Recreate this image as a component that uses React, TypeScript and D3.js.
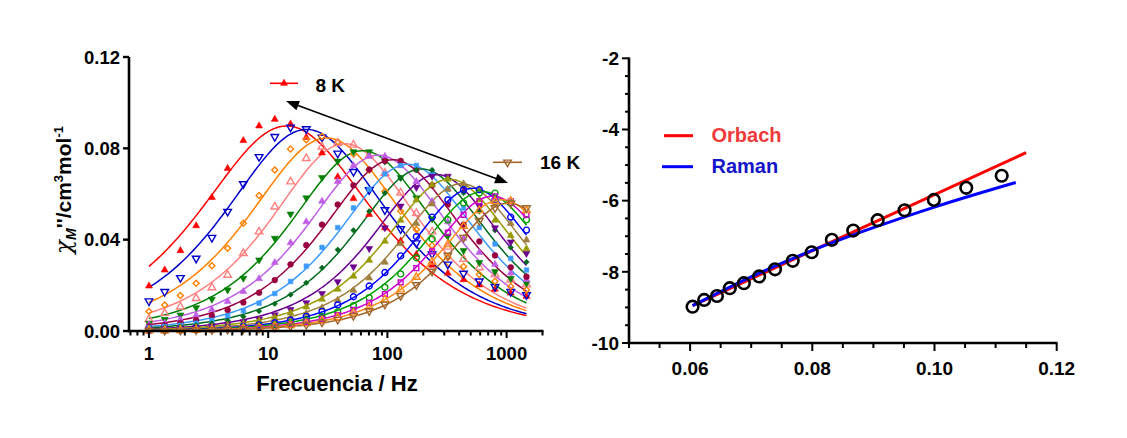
import React from "react";
import * as d3 from "d3";

// ---------- Left panel data: chi'' vs frequency ----------
const freqHz = [1, 1.355, 1.836, 2.488, 3.371, 4.568, 6.19, 8.387, 11.36, 15.4, 20.87, 28.28, 38.31, 51.92, 70.35, 95.3, 129.2, 175, 237.1, 321.3, 435.4, 590, 799, 1083, 1468];

const tempLabels = ["8 K", "8.5 K", "9 K", "9.5 K", "10 K", "10.5 K", "11 K", "11.5 K", "12 K", "12.5 K", "13 K", "13.5 K", "14 K", "14.5 K", "15 K", "15.5 K", "16 K"];

const chi8K = [0.0197, 0.0267, 0.0352, 0.0461, 0.0585, 0.0712, 0.0834, 0.0898, 0.0927, 0.0907, 0.0848, 0.078, 0.0675, 0.058, 0.051, 0.0452, 0.0394, 0.0335, 0.0288, 0.0253, 0.0225, 0.0202, 0.0183, 0.0166, 0.0152];
const chi8_5K = [0.0131, 0.0172, 0.0233, 0.0318, 0.0409, 0.0523, 0.0644, 0.0763, 0.0851, 0.0892, 0.0885, 0.0848, 0.0778, 0.0698, 0.0618, 0.053, 0.0447, 0.0385, 0.0337, 0.0292, 0.0252, 0.0218, 0.0194, 0.0172, 0.0158];
const chi9K = [0.0085, 0.0114, 0.0155, 0.0209, 0.0286, 0.0362, 0.0472, 0.0593, 0.0705, 0.0797, 0.0838, 0.0852, 0.0829, 0.0775, 0.0705, 0.0612, 0.0525, 0.0445, 0.0375, 0.0322, 0.0282, 0.0247, 0.0218, 0.0195, 0.018];
const chi9_5K = [0.0051, 0.0078, 0.0106, 0.0143, 0.019, 0.0245, 0.034, 0.0435, 0.0544, 0.0654, 0.0756, 0.0807, 0.0822, 0.0815, 0.0768, 0.0692, 0.0605, 0.0515, 0.0435, 0.0368, 0.0315, 0.0278, 0.0248, 0.0224, 0.0203];
const chi10K = [0.0034, 0.0051, 0.007, 0.0102, 0.0139, 0.018, 0.0231, 0.0311, 0.0406, 0.0512, 0.0583, 0.0672, 0.0744, 0.0785, 0.0785, 0.0744, 0.0672, 0.0583, 0.0491, 0.0416, 0.0352, 0.03, 0.026, 0.023, 0.0209];
const chi10_5K = [0.0027, 0.0035, 0.005, 0.0069, 0.0094, 0.0129, 0.0173, 0.0229, 0.03, 0.0386, 0.0478, 0.0568, 0.0655, 0.0725, 0.0765, 0.0765, 0.0725, 0.0655, 0.0568, 0.0478, 0.0406, 0.0344, 0.0292, 0.0254, 0.0225];
const chi11K = [0.002, 0.0026, 0.0035, 0.0048, 0.0067, 0.0092, 0.0125, 0.0168, 0.0223, 0.0292, 0.0376, 0.0466, 0.0554, 0.0638, 0.0707, 0.0745, 0.0745, 0.0707, 0.0638, 0.0554, 0.0466, 0.0392, 0.0331, 0.0279, 0.0238];
const chi11_5K = [0.0015, 0.002, 0.0025, 0.0034, 0.0047, 0.0065, 0.0089, 0.0122, 0.0164, 0.0217, 0.0284, 0.0366, 0.0453, 0.0539, 0.0621, 0.0688, 0.0725, 0.0725, 0.0688, 0.0621, 0.0539, 0.0453, 0.0381, 0.0318, 0.0267];
const chi12K = [0.0011, 0.0015, 0.0019, 0.0025, 0.0033, 0.0046, 0.0063, 0.0087, 0.0119, 0.0159, 0.0211, 0.0277, 0.0356, 0.0441, 0.0524, 0.0604, 0.0669, 0.0705, 0.0705, 0.0669, 0.0604, 0.0524, 0.0441, 0.0366, 0.0302];
const chi12_5K = [0.0007, 0.0009, 0.0013, 0.0017, 0.0022, 0.003, 0.004, 0.0053, 0.0071, 0.0094, 0.0124, 0.0164, 0.0216, 0.0281, 0.0361, 0.0452, 0.0547, 0.0629, 0.0678, 0.0678, 0.0629, 0.0547, 0.0452, 0.039, 0.034];
const chi13K = [0.0006, 0.0008, 0.0011, 0.0014, 0.0019, 0.0025, 0.0033, 0.0045, 0.0059, 0.0079, 0.0105, 0.0139, 0.0183, 0.024, 0.031, 0.0393, 0.0485, 0.0574, 0.064, 0.0665, 0.064, 0.0574, 0.0485, 0.0418, 0.036];
const chi13_5K = [0.0004, 0.0006, 0.0008, 0.001, 0.0014, 0.0018, 0.0024, 0.0032, 0.0043, 0.0058, 0.0077, 0.0102, 0.0135, 0.0178, 0.0232, 0.0301, 0.0382, 0.0471, 0.0556, 0.0621, 0.0645, 0.0621, 0.0556, 0.0471, 0.0399];
const chi14K = [0.0004, 0.0005, 0.0006, 0.0009, 0.0012, 0.0015, 0.002, 0.0027, 0.0036, 0.0048, 0.0064, 0.0086, 0.0114, 0.015, 0.0197, 0.0256, 0.0329, 0.0413, 0.0499, 0.0574, 0.0619, 0.0619, 0.0574, 0.0499, 0.0442];
const chi14_5K = [0.0003, 0.0004, 0.0005, 0.0006, 0.0008, 0.0011, 0.0015, 0.002, 0.0027, 0.0035, 0.0047, 0.0063, 0.0084, 0.0111, 0.0146, 0.0192, 0.025, 0.0321, 0.0403, 0.0487, 0.0561, 0.0604, 0.0604, 0.0561, 0.0487];
const chi15K = [0.0002, 0.0003, 0.0004, 0.0005, 0.0007, 0.0009, 0.0013, 0.0017, 0.0022, 0.003, 0.004, 0.0053, 0.007, 0.0093, 0.0123, 0.0162, 0.0213, 0.0275, 0.0349, 0.0431, 0.0509, 0.0568, 0.059, 0.0568, 0.0509];
const chi15_5K = [0.0002, 0.0002, 0.0003, 0.0004, 0.0006, 0.0008, 0.0011, 0.0014, 0.0019, 0.0025, 0.0033, 0.0045, 0.0059, 0.0079, 0.0104, 0.0138, 0.0181, 0.0236, 0.0303, 0.038, 0.0459, 0.0528, 0.0569, 0.0569, 0.0528];
const chi16K = [0.0002, 0.0002, 0.0003, 0.0004, 0.0005, 0.0007, 0.0009, 0.0012, 0.0016, 0.0021, 0.0028, 0.0038, 0.005, 0.0067, 0.0088, 0.0117, 0.0154, 0.0202, 0.0261, 0.0331, 0.0409, 0.0483, 0.0539, 0.056, 0.0539];

const seriesValues = [chi8K, chi8_5K, chi9K, chi9_5K, chi10K, chi10_5K, chi11K, chi11_5K, chi12K, chi12_5K, chi13K, chi13_5K, chi14K, chi14_5K, chi15K, chi15_5K, chi16K];
const seriesColors = ["#ff0000", "#0000cc", "#ff8000", "#ff8080", "#008000", "#bf5fe6", "#990040", "#3d9bff", "#006b1e", "#6b008f", "#999900", "#a08040", "#0000ff", "#00a000", "#cc00cc", "#ff8c1a", "#a0662b"];
const seriesShapes = ["triUp", "triDown", "diamond", "triUp", "triDown", "triUp", "circle", "square", "diamond", "triDown", "triUp", "triUp", "circle", "circle", "square", "triUp", "triDown"];
const seriesFilled = [true, false, false, false, true, true, true, true, true, true, true, true, false, false, false, false, false];

// generalized Debye fit parameters
const fitPeakFreq = [14.3, 21, 31, 44, 62, 84, 111, 148, 193, 260, 330, 420, 520, 630, 760, 900, 1040];
const fitPeakHeight = [0.0898, 0.0883, 0.0845, 0.082, 0.079, 0.077, 0.075, 0.073, 0.071, 0.0685, 0.0665, 0.0645, 0.0625, 0.061, 0.059, 0.0575, 0.056];
const fitAlpha = [0.23, 0.2, 0.18, 0.15, 0.14, 0.13, 0.12, 0.11, 0.1, 0.08, 0.07, 0.06, 0.05, 0.05, 0.04, 0.04, 0.03];

const leftYTicks = [0, 0.04, 0.08, 0.12];
const leftYTickLabels = ["0.00", "0.04", "0.08", "0.12"];
const leftXMajor = [1, 10, 100, 1000];
const leftXTickLabels = ["1", "10", "100", "1000"];

// ---------- Right panel data: ln(tau) vs 1/T ----------
const invT = [0.0604, 0.0623, 0.0644, 0.0665, 0.0688, 0.0713, 0.0739, 0.0768, 0.0799, 0.0832, 0.0867, 0.0907, 0.0951, 0.0999, 0.1052, 0.111];
const lnTau = [-8.98, -8.79, -8.68, -8.46, -8.32, -8.13, -7.93, -7.69, -7.45, -7.1, -6.84, -6.55, -6.27, -5.98, -5.64, -5.3];
const orbachX = [0.0604, 0.115];
const orbachY = [-8.95, -4.65];
const ramanX = [0.0604, 0.07, 0.08, 0.09, 0.1, 0.1133];
const ramanY = [-8.95, -8.14, -7.4, -6.76, -6.18, -5.49];

const rightYTicks = [-2, -4, -6, -8, -10];
const rightXTicks = [0.06, 0.08, 0.1, 0.12];
const rightXTickLabels = ["0.06", "0.08", "0.10", "0.12"];

const FONT = "'Liberation Sans', Arial, sans-serif";

function genDebye(f: number, fp: number, h: number, a: number) {
  const u = f / fp;
  const v = Math.pow(u, 1 - a);
  const c = Math.cos((a * Math.PI) / 2);
  const s = Math.sin((a * Math.PI) / 2);
  const val = (v * c) / (1 + 2 * v * s + v * v);
  const peak = c / (2 + 2 * s);
  return (h * val) / peak;
}

function markerPath(shape: string, filled: boolean) {
  switch (shape) {
    case "triUp":
    case "triDown":
      return d3.symbol(d3.symbolTriangle, filled ? 21 : 25)() as string;
    case "diamond":
      return d3.symbol(d3.symbolSquare, filled ? 15 : 18)() as string;
    case "circle":
      return d3.symbol(d3.symbolCircle, filled ? 26 : 28)() as string;
    default:
      return d3.symbol(d3.symbolSquare, filled ? 21 : 23)() as string;
  }
}
function markerRot(shape: string) {
  if (shape === "triDown") return " rotate(180)";
  if (shape === "diamond") return " rotate(45)";
  return "";
}

function Marker({ x, y, i }: { x: number; y: number; i: number }) {
  const shape = seriesShapes[i];
  const filled = seriesFilled[i];
  const col = seriesColors[i];
  return (
    <path
      d={markerPath(shape, filled)}
      transform={`translate(${x},${y})${markerRot(shape)}`}
      fill={filled ? col : "none"}
      stroke={col}
      strokeWidth={filled ? 0.6 : 1.4}
    />
  );
}

export default function App() {
  // Left scales
  const xL = d3.scaleLog().domain([0.7, 2000]).range([130.5, 542.5]);
  const yL = d3.scaleLinear().domain([0, 0.12]).range([331, 57]);
  const leftAxisX = 129;
  const leftAxisY = 331;

  // Right scales
  const xR = d3.scaleLinear().domain([0.05, 0.12]).range([629, 1056.7]);
  const yR = d3.scaleLinear().domain([-10, -2]).range([343, 58.3]);

  const sampleF = d3.range(0, 161).map((i) => Math.pow(10, (i / 160) * Math.log10(1468)));

  const leftMinor = xL.ticks();
  const lineR = d3
    .line<[number, number]>()
    .x((d) => xR(d[0]))
    .y((d) => yR(d[1]));
  const ramanLine = d3
    .line<[number, number]>()
    .x((d) => xR(d[0]))
    .y((d) => yR(d[1]))
    .curve(d3.curveMonotoneX);

  const rYMinor = d3.range(-10, -1.99, 0.5);
  const rXMinor = d3.range(0, 15).map((k) => 0.05 + k * 0.005);

  // annotation positions in data coordinates
  const arrowA: [number, number] = [xL(14.1), yL(0.1007)];
  const arrowB: [number, number] = [xL(1028), yL(0.0648)];
  const ang = Math.atan2(arrowB[1] - arrowA[1], arrowB[0] - arrowA[0]);
  const headLen = 13;
  const headW = 5;
  const head = (tip: [number, number], dir: number) => {
    const bx = tip[0] - Math.cos(dir) * headLen;
    const by = tip[1] - Math.sin(dir) * headLen;
    const px = -Math.sin(dir) * headW;
    const py = Math.cos(dir) * headW;
    return `M${tip[0]},${tip[1]}L${bx + px},${by + py}L${bx - px},${by - py}Z`;
  };

  return (
    <svg
      width={1127}
      height={438}
      style={{ position: "absolute", left: 0, top: 0, background: "#fff" }}
      fontFamily={FONT}
    >
      <rect x={0} y={0} width={1127} height={438} fill="#fff" />

      {/* ---------------- LEFT PANEL ---------------- */}
      <g>
        {seriesValues.map((_, i) => {
          const pts = sampleF.map((f) => [xL(f), yL(genDebye(f, fitPeakFreq[i], fitPeakHeight[i], fitAlpha[i]))] as [number, number]);
          const d = d3.line()(pts) as string;
          return <path key={"fit" + i} d={d} fill="none" stroke={seriesColors[i]} strokeWidth={1.5} />;
        })}
        {seriesValues.map((vals, i) =>
          vals.map((v, j) => <Marker key={`m${i}-${j}`} x={xL(freqHz[j])} y={yL(v)} i={i} />)
        )}
      </g>

      {/* left axes */}
      <line x1={leftAxisX} x2={leftAxisX} y1={57} y2={leftAxisY + 1.2} stroke="#000" strokeWidth={2.6} />
      <line x1={leftAxisX - 1.3} x2={543.5} y1={leftAxisY} y2={leftAxisY} stroke="#000" strokeWidth={2.6} />
      {leftYTicks.map((t, k) => (
        <g key={"ly" + k}>
          <line x1={leftAxisX - 6} x2={leftAxisX} y1={yL(t)} y2={yL(t)} stroke="#000" strokeWidth={2.4} />
          <text x={leftAxisX - 9} y={yL(t)} dy="0.36em" textAnchor="end" fontSize={18.5} fontWeight="bold">
            {leftYTickLabels[k]}
          </text>
        </g>
      ))}
      {leftMinor.map((t, k) => {
        const major = leftXMajor.indexOf(t) >= 0;
        return (
          <line key={"lx" + k} x1={xL(t)} x2={xL(t)} y1={leftAxisY} y2={leftAxisY + (major ? 7 : 4.5)} stroke="#000" strokeWidth={2} />
        );
      })}
      {leftXMajor.map((t, k) => (
        <text key={"lxl" + k} x={xL(t)} y={leftAxisY + 29} textAnchor="middle" fontSize={18.5} fontWeight="bold">
          {leftXTickLabels[k]}
        </text>
      ))}
      <text x={337} y={391} textAnchor="middle" fontSize={22} fontWeight="bold">
        Frecuencia / Hz
      </text>
      <text transform="translate(71,190) rotate(-90)" textAnchor="middle" fontSize={21} fontWeight="bold">
        <tspan fontStyle="italic" fontWeight="normal" fontSize={23} fontFamily="'DejaVu Serif', serif">χ</tspan>
        <tspan fontStyle="italic" fontSize={14} dy={5}>M</tspan>
        <tspan dy={-5}>''/cm</tspan>
        <tspan fontSize={13} dy={-8}>3</tspan>
        <tspan dy={8}>mol</tspan>
        <tspan fontSize={13} dy={-8}>-1</tspan>
      </text>

      {/* legend labels + arrow */}
      <line x1={270} x2={298} y1={83.3} y2={83.3} stroke={seriesColors[0]} strokeWidth={1.6} />
      <Marker x={284} y={83.3} i={0} />
      <text x={315.5} y={91.5} fontSize={19} fontWeight="bold">{tempLabels[0]}</text>
      <line x1={493} x2={522} y1={162.3} y2={162.3} stroke={seriesColors[16]} strokeWidth={1.6} />
      <Marker x={507.5} y={162.3} i={16} />
      <text x={540} y={168.5} fontSize={19} fontWeight="bold">{tempLabels[16]}</text>
      <line
        x1={arrowA[0] + Math.cos(ang) * 10}
        y1={arrowA[1] + Math.sin(ang) * 10}
        x2={arrowB[0] - Math.cos(ang) * 10}
        y2={arrowB[1] - Math.sin(ang) * 10}
        stroke="#000"
        strokeWidth={1.6}
      />
      <path d={head(arrowA, ang + Math.PI)} fill="#000" />
      <path d={head(arrowB, ang)} fill="#000" />

      {/* ---------------- RIGHT PANEL ---------------- */}
      <line x1={629} x2={629} y1={57.5} y2={344.3} stroke="#000" strokeWidth={2.6} />
      <line x1={627.7} x2={1057.5} y1={343} y2={343} stroke="#000" strokeWidth={2.6} />
      {rYMinor.map((t, k) => {
        const major = Math.abs(t - Math.round(t)) < 1e-6 && Math.round(t) % 2 === 0;
        return <line key={"ry" + k} x1={629 - (major ? 7 : 4)} x2={629} y1={yR(t)} y2={yR(t)} stroke="#000" strokeWidth={2} />;
      })}
      {rightYTicks.map((t, k) => (
        <text key={"ryl" + k} x={619} y={yR(t)} dy="0.36em" textAnchor="end" fontSize={19} fontWeight="bold">
          {String(t)}
        </text>
      ))}
      {rXMinor.map((t, k) => {
        const major = k % 4 === 2;
        return <line key={"rx" + k} x1={xR(t)} x2={xR(t)} y1={343} y2={343 + (major ? 8 : 5)} stroke="#000" strokeWidth={2} />;
      })}
      {rightXTicks.map((t, k) => (
        <text key={"rxl" + k} x={xR(t)} y={375} textAnchor="middle" fontSize={19} fontWeight="bold">
          {rightXTickLabels[k]}
        </text>
      ))}

      <path d={lineR(orbachX.map((x, i) => [x, orbachY[i]] as [number, number])) as string} fill="none" stroke="#ff0000" strokeWidth={3} />
      <path d={ramanLine(ramanX.map((x, i) => [x, ramanY[i]] as [number, number])) as string} fill="none" stroke="#0000ff" strokeWidth={3} />
      {invT.map((x, i) => (
        <circle key={"c" + i} cx={xR(x)} cy={yR(lnTau[i])} r={5.8} fill="none" stroke="#000" strokeWidth={2.6} />
      ))}

      <line x1={664} x2={693} y1={135.7} y2={135.7} stroke="#ff0000" strokeWidth={3} />
      <text x={711.5} y={141.7} fontSize={20} fontWeight="bold" fill="#f03a3a">Orbach</text>
      <line x1={662} x2={693} y1={166.7} y2={166.7} stroke="#0000ff" strokeWidth={3} />
      <text x={711.5} y={173.3} fontSize={20} fontWeight="bold" fill="#1414c8">Raman</text>
    </svg>
  );
}
